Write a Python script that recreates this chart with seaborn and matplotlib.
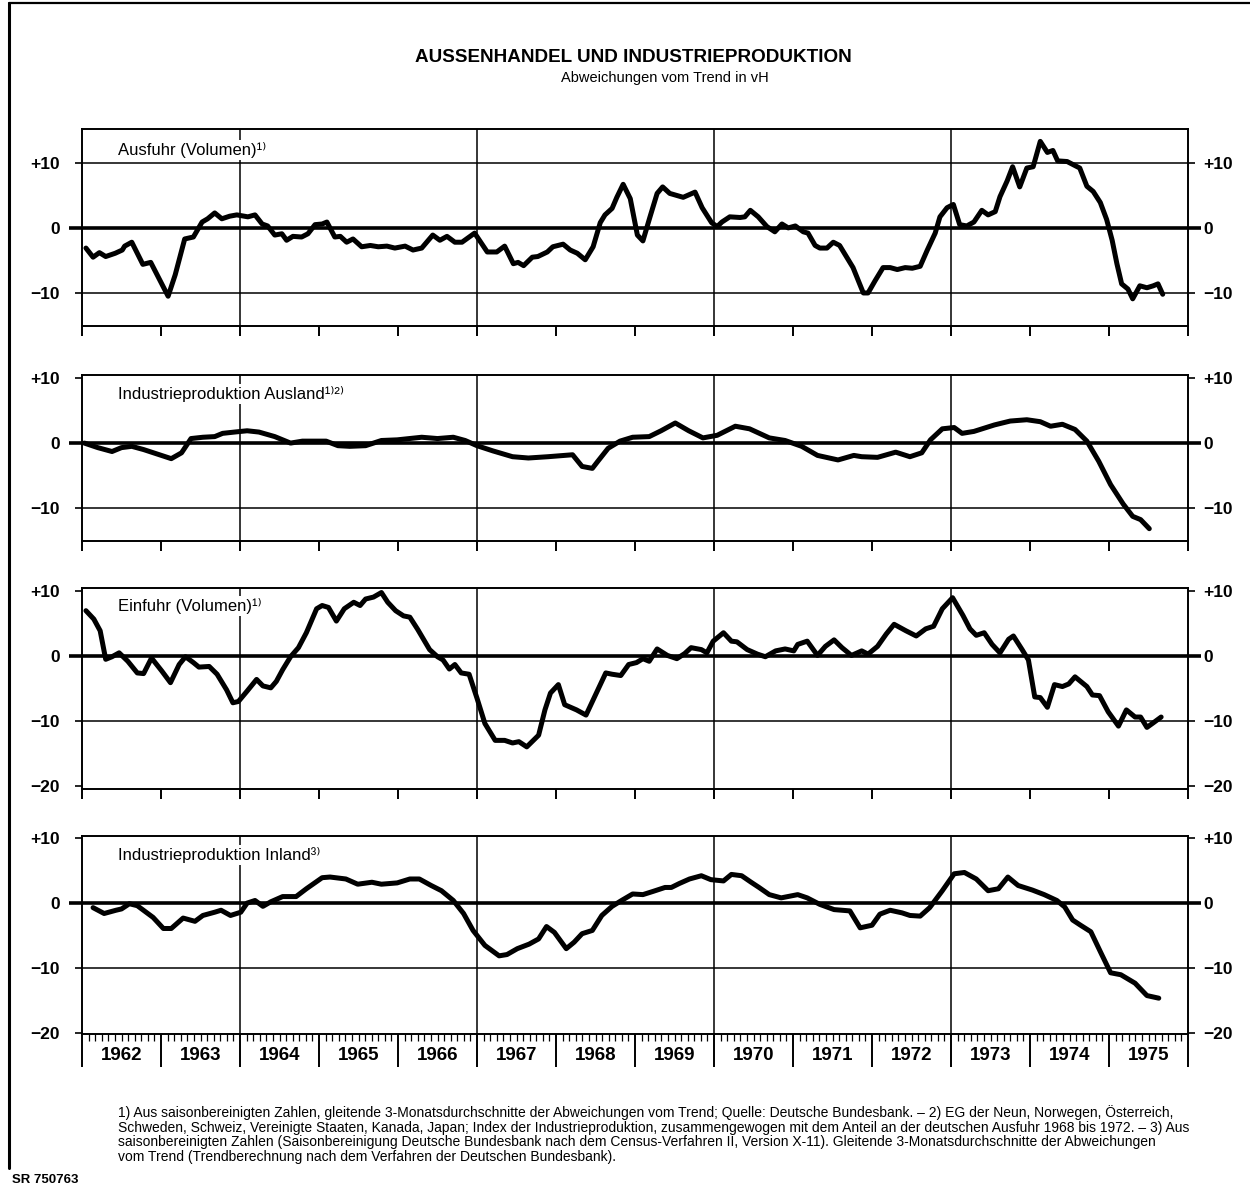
import matplotlib
matplotlib.use("Agg")
import matplotlib.pyplot as plt
import matplotlib.transforms as mtransforms
from matplotlib.lines import Line2D
from matplotlib.ticker import MultipleLocator, FixedLocator, NullFormatter
import numpy as np
import pandas as pd
import seaborn as sns

sns.set_style("white")
FONT = ["Liberation Sans Narrow", "Liberation Sans", "DejaVu Sans"]
plt.rcParams["font.family"] = FONT
plt.rcParams["text.color"] = "black"
plt.rcParams["axes.labelcolor"] = "black"
plt.rcParams["xtick.color"] = "black"
plt.rcParams["ytick.color"] = "black"

# ---------------- data (year, deviation from trend in %) ----------------
years = list(range(1962, 1976))
divider_years = [1964, 1967, 1970, 1973]

ausfuhr = [
    (1962.05, -3.1), (1962.14, -4.5), (1962.22, -3.8), (1962.30, -4.4), (1962.42, -3.9), (1962.51, -3.4),
    (1962.54, -2.8), (1962.63, -2.2), (1962.77, -5.6), (1962.87, -5.3), (1963.09, -10.5), (1963.18, -7.2),
    (1963.30, -1.7), (1963.41, -1.4), (1963.52, 0.9), (1963.59, 1.4), (1963.68, 2.3), (1963.77, 1.4),
    (1963.87, 1.8), (1963.96, 2.0), (1964.10, 1.7), (1964.19, 2.0), (1964.28, 0.6), (1964.35, 0.3),
    (1964.44, -1.1), (1964.53, -0.9), (1964.59, -1.9), (1964.67, -1.3), (1964.78, -1.4), (1964.86, -0.9),
    (1964.95, 0.5), (1965.04, 0.6), (1965.10, 0.9), (1965.20, -1.4), (1965.27, -1.3), (1965.35, -2.2),
    (1965.43, -1.7), (1965.54, -2.9), (1965.65, -2.7), (1965.75, -2.9), (1965.86, -2.8), (1965.96, -3.1),
    (1966.09, -2.8), (1966.19, -3.4), (1966.30, -3.1), (1966.44, -1.1), (1966.53, -1.9), (1966.62, -1.3),
    (1966.72, -2.2), (1966.81, -2.2), (1966.97, -0.8), (1967.13, -3.7), (1967.25, -3.7), (1967.35, -2.8),
    (1967.46, -5.5), (1967.52, -5.3), (1967.59, -5.8), (1967.70, -4.5), (1967.77, -4.4), (1967.89, -3.7),
    (1967.96, -2.9), (1968.09, -2.5), (1968.18, -3.4), (1968.27, -3.9), (1968.37, -4.9), (1968.47, -2.9),
    (1968.56, 0.8), (1968.62, 2.0), (1968.71, 3.0), (1968.77, 4.7), (1968.85, 6.7), (1968.94, 4.5),
    (1969.03, -1.1), (1969.10, -2.0), (1969.19, 1.7), (1969.28, 5.3), (1969.35, 6.3), (1969.44, 5.3),
    (1969.61, 4.7), (1969.76, 5.5), (1969.85, 3.1), (1969.97, 0.8), (1970.04, 0.2), (1970.10, 0.9),
    (1970.20, 1.7), (1970.33, 1.6), (1970.39, 1.7), (1970.46, 2.7), (1970.56, 1.7), (1970.67, 0.2),
    (1970.77, -0.6), (1970.86, 0.6), (1970.94, 0.0), (1971.03, 0.3), (1971.13, -0.6), (1971.19, -0.8),
    (1971.28, -2.7), (1971.34, -3.1), (1971.43, -3.1), (1971.51, -2.2), (1971.59, -2.7), (1971.68, -4.5),
    (1971.76, -6.1), (1971.89, -10.0), (1971.95, -10.0), (1972.04, -8.1), (1972.14, -6.1), (1972.23, -6.1),
    (1972.32, -6.4), (1972.42, -6.1), (1972.51, -6.2), (1972.61, -5.9), (1972.70, -3.4), (1972.80, -0.8),
    (1972.86, 1.7), (1972.95, 3.1), (1973.03, 3.6), (1973.11, 0.5), (1973.20, 0.3), (1973.29, 0.9),
    (1973.39, 2.7), (1973.47, 2.0), (1973.56, 2.5), (1973.62, 4.8), (1973.71, 7.2), (1973.78, 9.4),
    (1973.87, 6.3), (1973.96, 9.2), (1974.04, 9.4), (1974.13, 13.3), (1974.22, 11.6), (1974.29, 11.9),
    (1974.35, 10.3), (1974.47, 10.2), (1974.63, 9.2), (1974.72, 6.4), (1974.80, 5.6), (1974.89, 3.9),
    (1974.97, 1.3), (1975.04, -1.9), (1975.10, -5.5), (1975.16, -8.6), (1975.24, -9.4), (1975.30, -10.9),
    (1975.39, -8.9), (1975.48, -9.2), (1975.56, -8.9), (1975.62, -8.6), (1975.68, -10.2),
]

ip_ausland = [
    (1962.03, 0.0), (1962.20, -0.7), (1962.38, -1.3), (1962.50, -0.7), (1962.63, -0.5), (1962.78, -1.0),
    (1962.98, -1.8), (1963.13, -2.4), (1963.26, -1.5), (1963.38, 0.7), (1963.53, 0.9), (1963.68, 1.0),
    (1963.78, 1.5), (1963.93, 1.7), (1964.09, 1.9), (1964.24, 1.7), (1964.44, 1.0), (1964.64, 0.0),
    (1964.79, 0.3), (1965.09, 0.3), (1965.24, -0.4), (1965.39, -0.5), (1965.59, -0.4), (1965.79, 0.4),
    (1965.99, 0.5), (1966.30, 0.9), (1966.50, 0.7), (1966.70, 0.9), (1966.85, 0.4), (1967.00, -0.4),
    (1967.20, -1.2), (1967.45, -2.1), (1967.65, -2.3), (1967.90, -2.1), (1968.21, -1.8), (1968.33, -3.6),
    (1968.46, -3.9), (1968.53, -2.8), (1968.66, -0.8), (1968.81, 0.3), (1968.97, 0.9), (1969.18, 1.0),
    (1969.33, 1.9), (1969.51, 3.1), (1969.68, 1.9), (1969.86, 0.8), (1970.04, 1.2), (1970.27, 2.6),
    (1970.45, 2.2), (1970.70, 0.8), (1970.90, 0.4), (1971.11, -0.5), (1971.31, -1.9), (1971.57, -2.6),
    (1971.77, -1.9), (1971.87, -2.1), (1972.07, -2.2), (1972.30, -1.4), (1972.48, -2.1), (1972.63, -1.5),
    (1972.74, 0.5), (1972.89, 2.2), (1973.04, 2.4), (1973.14, 1.5), (1973.29, 1.8), (1973.55, 2.8),
    (1973.75, 3.4), (1973.96, 3.6), (1974.13, 3.3), (1974.26, 2.6), (1974.41, 2.9), (1974.57, 2.1),
    (1974.72, 0.3), (1974.87, -2.8), (1975.02, -6.4), (1975.18, -9.4), (1975.30, -11.3), (1975.40, -11.8),
    (1975.51, -13.2),
]

einfuhr = [
    (1962.05, 7.0), (1962.15, 5.7), (1962.23, 3.9), (1962.30, -0.5), (1962.38, -0.1), (1962.47, 0.5),
    (1962.58, -0.8), (1962.70, -2.6), (1962.78, -2.7), (1962.88, -0.3), (1963.01, -2.3), (1963.12, -4.1),
    (1963.23, -1.3), (1963.31, -0.1), (1963.41, -1.0), (1963.48, -1.7), (1963.61, -1.6), (1963.71, -2.8),
    (1963.83, -5.2), (1963.91, -7.2), (1963.98, -7.0), (1964.09, -5.4), (1964.21, -3.6), (1964.29, -4.6),
    (1964.39, -4.9), (1964.46, -3.9), (1964.54, -2.1), (1964.64, -0.1), (1964.74, 1.3), (1964.84, 3.6),
    (1964.97, 7.3), (1965.04, 7.8), (1965.12, 7.5), (1965.22, 5.4), (1965.32, 7.3), (1965.44, 8.3),
    (1965.52, 7.8), (1965.59, 8.8), (1965.69, 9.1), (1965.79, 9.8), (1965.87, 8.3), (1965.97, 7.0),
    (1966.07, 6.2), (1966.15, 6.0), (1966.25, 4.1), (1966.40, 1.0), (1966.50, -0.1), (1966.57, -0.6),
    (1966.65, -2.0), (1966.72, -1.3), (1966.80, -2.6), (1966.90, -2.8), (1967.00, -6.5), (1967.10, -10.4),
    (1967.23, -13.0), (1967.35, -13.0), (1967.45, -13.4), (1967.53, -13.2), (1967.63, -14.0), (1967.78, -12.2),
    (1967.86, -8.3), (1967.93, -5.7), (1968.03, -4.4), (1968.11, -7.5), (1968.26, -8.3), (1968.38, -9.1),
    (1968.48, -6.5), (1968.63, -2.6), (1968.71, -2.8), (1968.82, -3.0), (1968.92, -1.3), (1969.02, -1.0),
    (1969.10, -0.4), (1969.18, -0.8), (1969.28, 1.1), (1969.41, 0.1), (1969.53, -0.4), (1969.63, 0.4),
    (1969.71, 1.3), (1969.84, 1.0), (1969.91, 0.5), (1969.99, 2.3), (1970.12, 3.6), (1970.22, 2.3),
    (1970.29, 2.2), (1970.42, 1.0), (1970.55, 0.3), (1970.65, -0.1), (1970.78, 0.8), (1970.90, 1.1),
    (1971.01, 0.8), (1971.06, 1.8), (1971.18, 2.3), (1971.31, 0.1), (1971.41, 1.5), (1971.52, 2.5),
    (1971.62, 1.3), (1971.74, 0.1), (1971.87, 0.8), (1971.95, 0.3), (1972.07, 1.5), (1972.18, 3.4),
    (1972.28, 4.9), (1972.43, 3.9), (1972.56, 3.1), (1972.68, 4.2), (1972.78, 4.6), (1972.89, 7.3),
    (1973.02, 9.0), (1973.15, 6.3), (1973.24, 4.2), (1973.32, 3.2), (1973.42, 3.6), (1973.52, 1.8),
    (1973.62, 0.5), (1973.73, 2.6), (1973.79, 3.1), (1973.90, 1.0), (1973.98, -0.6), (1974.06, -6.3),
    (1974.13, -6.4), (1974.22, -7.9), (1974.31, -4.4), (1974.41, -4.7), (1974.49, -4.3), (1974.57, -3.2),
    (1974.72, -4.7), (1974.79, -6.0), (1974.88, -6.1), (1974.99, -8.6), (1975.12, -10.8), (1975.22, -8.3),
    (1975.33, -9.4), (1975.40, -9.4), (1975.48, -11.0), (1975.56, -10.3), (1975.66, -9.4),
]

ip_inland = [
    (1962.14, -0.7), (1962.28, -1.6), (1962.43, -1.1), (1962.50, -0.9), (1962.60, -0.1), (1962.70, -0.4),
    (1962.90, -2.2), (1963.03, -3.9), (1963.13, -3.9), (1963.28, -2.3), (1963.43, -2.8), (1963.53, -1.9),
    (1963.68, -1.4), (1963.76, -1.1), (1963.88, -1.9), (1964.01, -1.4), (1964.09, 0.0), (1964.19, 0.4),
    (1964.29, -0.5), (1964.39, 0.2), (1964.54, 1.0), (1964.71, 1.0), (1964.84, 2.2), (1965.04, 3.9),
    (1965.14, 4.0), (1965.34, 3.7), (1965.49, 2.9), (1965.67, 3.2), (1965.79, 2.9), (1965.99, 3.1),
    (1966.15, 3.7), (1966.27, 3.7), (1966.42, 2.7), (1966.55, 1.9), (1966.70, 0.4), (1966.83, -1.6),
    (1966.95, -4.2), (1967.10, -6.5), (1967.28, -8.1), (1967.38, -7.9), (1967.51, -7.0), (1967.66, -6.3),
    (1967.78, -5.5), (1967.88, -3.6), (1967.98, -4.5), (1968.13, -7.0), (1968.23, -6.0), (1968.33, -4.7),
    (1968.46, -4.2), (1968.58, -1.9), (1968.71, -0.5), (1968.83, 0.4), (1968.97, 1.4), (1969.10, 1.3),
    (1969.23, 1.8), (1969.38, 2.4), (1969.46, 2.4), (1969.56, 3.0), (1969.69, 3.7), (1969.84, 4.2),
    (1969.96, 3.6), (1970.12, 3.4), (1970.22, 4.4), (1970.35, 4.2), (1970.47, 3.2), (1970.57, 2.4),
    (1970.70, 1.3), (1970.85, 0.8), (1971.06, 1.3), (1971.18, 0.8), (1971.34, -0.2), (1971.52, -1.0),
    (1971.72, -1.2), (1971.85, -3.8), (1972.00, -3.4), (1972.10, -1.7), (1972.23, -1.1), (1972.38, -1.5),
    (1972.48, -1.9), (1972.61, -2.0), (1972.73, -0.7), (1972.89, 1.9), (1973.04, 4.5), (1973.17, 4.7),
    (1973.32, 3.7), (1973.47, 1.9), (1973.60, 2.2), (1973.72, 4.0), (1973.85, 2.7), (1974.03, 2.0),
    (1974.18, 1.3), (1974.34, 0.4), (1974.44, -0.6), (1974.54, -2.6), (1974.64, -3.4), (1974.77, -4.4),
    (1974.90, -7.7), (1975.02, -10.7), (1975.15, -11.0), (1975.33, -12.3), (1975.48, -14.2), (1975.63, -14.6),
]

panel_labels = ["Ausfuhr (Volumen)¹⁾", "Industrieproduktion Ausland¹⁾²⁾",
                "Einfuhr (Volumen)¹⁾", "Industrieproduktion Inland³⁾"]
panel_series = [ausfuhr, ip_ausland, einfuhr, ip_inland]
panel_ylims = [(-15.0, 15.2), (-15.1, 10.5), (-20.5, 10.5), (-20.1, 10.3)]
panel_yticks = [[10, 0, -10], [10, 0, -10], [10, 0, -10, -20], [10, 0, -10, -20]]
panel_grid = [[10, -10], [-10], [-10], [-10]]
tick_text = {10: "+10", 0: "0", -10: "−10", -20: "−20"}

title = "AUSSENHANDEL UND INDUSTRIEPRODUKTION"
subtitle = "Abweichungen vom Trend in vH"
footnote_lines = [
    "1) Aus saisonbereinigten Zahlen, gleitende 3-Monatsdurchschnitte der Abweichungen vom Trend; Quelle: Deutsche Bundesbank. – 2) EG der Neun, Norwegen, Österreich,",
    "Schweden, Schweiz, Vereinigte Staaten, Kanada, Japan; Index der Industrieproduktion, zusammengewogen mit dem Anteil an der deutschen Ausfuhr 1968 bis 1972. – 3) Aus",
    "saisonbereinigten Zahlen (Saisonbereinigung Deutsche Bundesbank nach dem Census-Verfahren II, Version X-11). Gleitende 3-Monatsdurchschnitte der Abweichungen",
    "vom Trend (Trendberechnung nach dem Verfahren der Deutschen Bundesbank).",
]
code_label = "SR 750763"

# ---------------- layout (figure pixels -> fractions) ----------------
W, H = 1250, 1196
fig = plt.figure(figsize=(W / 100, H / 100), dpi=100)
fig.patch.set_facecolor("white")

left_px, right_px = 82, 1188
panel_px = [(129, 325.5), (375, 541), (588, 789), (836, 1034)]  # top, bottom
label_y = [0.893, 0.886, 0.91, 0.904]

for i, (top, bot) in enumerate(panel_px):
    ax = fig.add_axes([left_px / W, 1 - bot / H, (right_px - left_px) / W, (bot - top) / H])
    df = pd.DataFrame(panel_series[i], columns=["jahr", "wert"])
    sns.lineplot(data=df, x="jahr", y="wert", ax=ax, color="black", linewidth=3.6,
                 sort=False, estimator=None, zorder=4)
    ax.set_xlim(1962, 1976)
    ax.set_ylim(*panel_ylims[i])
    ax.set_xlabel("")
    ax.set_ylabel("")
    ax.set_facecolor("white")
    for s in ax.spines.values():
        s.set_color("black")
        s.set_linewidth(1.4)
        s.set_visible(True)
    for h in panel_grid[i]:
        ax.axhline(h, color="black", lw=1.1, zorder=1)
    for xv in divider_years:
        ax.axvline(xv, color="black", lw=1.1, zorder=1)
    # thick zero line, slightly beyond the frame
    ax.plot([-0.012, 1.012], [0, 0], transform=ax.get_yaxis_transform(), color="black",
            lw=2.6, clip_on=False, zorder=3, solid_capstyle="butt")

    yt = panel_yticks[i]
    ax.yaxis.set_major_locator(FixedLocator(yt))
    ax.set_yticklabels([tick_text[v] for v in yt])
    ax.tick_params(axis="y", left=True, right=False, direction="out", length=5, width=1.2,
                   pad=11, labelsize=12.5, colors="black")
    for lab in ax.get_yticklabels():
        lab.set_fontweight("bold")

    ax2 = ax.twinx()
    ax2.set_ylim(*panel_ylims[i])
    ax2.yaxis.set_major_locator(FixedLocator(yt))
    ax2.set_yticklabels([tick_text[v] for v in yt])
    ax2.tick_params(axis="y", right=True, left=False, direction="out", length=5, width=1.2,
                    pad=6, labelsize=12.5, colors="black")
    for lab in ax2.get_yticklabels():
        lab.set_fontweight("bold")
    for s in ax2.spines.values():
        s.set_visible(False)
    ax2.grid(False)

    ax.xaxis.set_major_locator(FixedLocator(years + [1976]))
    ax.xaxis.set_major_formatter(NullFormatter())
    if i < 3:
        ax.tick_params(axis="x", bottom=True, direction="out", length=7, width=1.4)
    else:
        ax.xaxis.set_minor_locator(MultipleLocator(1 / 12))
        ax.tick_params(axis="x", which="major", bottom=True, direction="out", length=24, width=1.4)
        ax.tick_params(axis="x", which="minor", bottom=True, direction="out", length=5, width=0.9)
        trans = mtransforms.blended_transform_factory(ax.transData, ax.transAxes)
        for y in years:
            ax.text(y + 0.5, -0.108, str(y), transform=trans, ha="center", va="center",
                    fontsize=13.5, fontweight="bold")

    ax.text(0.033, label_y[i], panel_labels[i], transform=ax.transAxes, ha="left", va="center",
            fontsize=12, zorder=6, bbox=dict(facecolor="white", edgecolor="none", pad=1.5))

# ---------------- titles, footnotes, frame ----------------
fig.text(633 / W, 1 - 58 / H, title, ha="center", va="center", fontsize=13.6, fontweight="bold")
fig.text(665 / W, 1 - 78 / H, subtitle, ha="center", va="center", fontsize=10.5)

for k, line in enumerate(footnote_lines):
    fig.text(118 / W, 1 - (1113 + 14.6 * k) / H, line, ha="left", va="center", fontsize=10)

fig.text(12 / W, 1 - 1180 / H, code_label, ha="left", va="center", fontsize=9.5, fontweight="bold")

fig.add_artist(Line2D([9 / W, 9 / W], [1 - 3 / H, 1 - 1168 / H], transform=fig.transFigure,
                      color="black", lw=2.2))
fig.add_artist(Line2D([9 / W, 1.0], [1 - 3 / H, 1 - 3 / H], transform=fig.transFigure,
                      color="black", lw=1.6))

fig.savefig("out.png", dpi=100, facecolor="white")
